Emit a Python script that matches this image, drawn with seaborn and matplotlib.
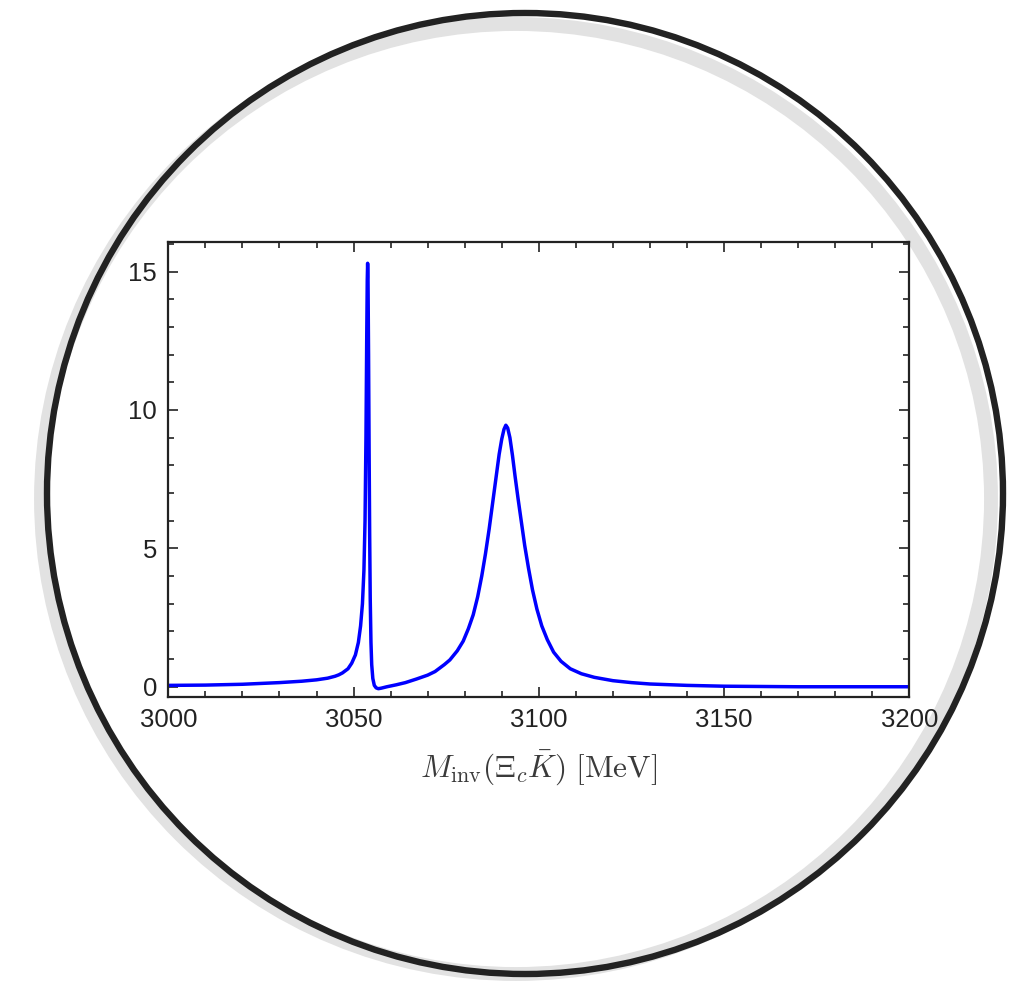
import matplotlib
matplotlib.use("Agg")
import matplotlib.pyplot as plt
from matplotlib.patches import Ellipse
from matplotlib.ticker import MultipleLocator
import seaborn as sns
import pandas as pd

# Invariant-mass spectrum of Xi_c Kbar (MeV, arbitrary units)
mass = [
    3000, 3010, 3020, 3030, 3036, 3040, 3043, 3045, 3046, 3047,
    3048.5, 3049.5, 3050.5, 3051.3, 3051.9, 3052.4, 3052.8, 3053.1, 3053.35, 3053.55,
    3053.7, 3053.8, 3053.9, 3054.05, 3054.2, 3054.35, 3054.5, 3054.7, 3054.9, 3055.2,
    3055.6, 3056.1, 3056.7, 3057.5, 3059, 3061.5, 3064, 3067, 3070, 3072,
    3073.3, 3074.5, 3076, 3078, 3079.6, 3081, 3082.3, 3083.5, 3084.6, 3085.6,
    3086.6, 3087.6, 3088.5, 3089.3, 3090, 3090.6, 3091.1, 3091.6, 3092.2, 3092.9,
    3093.6, 3094.4, 3095.3, 3096.2, 3097.2, 3098.3, 3099.5, 3100.8, 3102.3, 3104,
    3106, 3108.5, 3111.5, 3115, 3120, 3125, 3130, 3140, 3150, 3170,
    3200,
]
intensity = [
    0.05, 0.06, 0.09, 0.15, 0.20, 0.25, 0.31, 0.38, 0.43, 0.50,
    0.65, 0.85, 1.15, 1.60, 2.20, 3.00, 4.20, 6.00, 9.00, 12.5,
    14.7, 15.3, 14.8, 12.0, 8.50, 5.50, 3.20, 1.60, 0.80, 0.30,
    0.05, -0.04, -0.07, -0.05, 0.00, 0.07, 0.15, 0.28, 0.42, 0.55,
    0.68, 0.80, 0.97, 1.30, 1.65, 2.10, 2.60, 3.25, 4.00, 4.80,
    5.70, 6.70, 7.60, 8.40, 8.95, 9.30, 9.45, 9.35, 9.00, 8.35,
    7.60, 6.80, 5.95, 5.10, 4.30, 3.50, 2.80, 2.20, 1.70, 1.25,
    0.92, 0.65, 0.47, 0.34, 0.22, 0.15, 0.10, 0.05, 0.02, 0.00,
    0.00,
]
x_ticks = [3000, 3050, 3100, 3150, 3200]
y_ticks = [0, 5, 10, 15]

df = pd.DataFrame({"mass": mass, "intensity": intensity})

sns.set_theme(style="ticks")
plt.rcParams["font.family"] = ["Liberation Sans", "DejaVu Sans"]
plt.rcParams["mathtext.fontset"] = "cm"

W, H = 1036, 985
fig = plt.figure(figsize=(W / 100, H / 100), dpi=100)
fig.patch.set_facecolor("white")

# circular frame behind the plot
bg = fig.add_axes([0, 0, 1, 1], zorder=0)
bg.set_xlim(0, W)
bg.set_ylim(H, 0)
bg.axis("off")
bg.add_patch(Ellipse((516, 499), 2 * 475, 2 * 475, fill=False,
                     edgecolor="#e2e2e2", linewidth=10))
bg.add_patch(Ellipse((525, 493.5), 2 * 478, 2 * 480.5, fill=False,
                     edgecolor="#222222", linewidth=4.6))

ax = fig.add_axes([168.3 / W, 1 - 697 / H, (909.3 - 168.3) / W, (697 - 241.7) / H],
                  zorder=1)
ax.set_facecolor("white")
sns.lineplot(data=df, x="mass", y="intensity", ax=ax, color="#0000ff",
             linewidth=2.5, sort=False, estimator=None)

ax.set_xlim(3000, 3200)
ax.set_ylim(-0.37, 16.08)
ax.set_xticks(x_ticks)
ax.set_yticks(y_ticks)
ax.xaxis.set_minor_locator(MultipleLocator(10))
ax.yaxis.set_minor_locator(MultipleLocator(1))
ax.tick_params(which="both", direction="in", top=True, right=True,
               color="#222222", width=1.2)
ax.tick_params(which="major", length=7, labelsize=18.5, labelcolor="#222222", pad=8)
ax.tick_params(which="minor", length=4)
for s in ax.spines.values():
    s.set_linewidth(1.6)
    s.set_color("#222222")

ax.set_ylabel("")
ax.set_xlabel(r"$M_{\rm inv}(\Xi_c\bar{K})\ [{\rm MeV}]$", fontsize=22.5,
              color="#3a3a3a", labelpad=12)

fig.savefig("out.png", dpi=100, facecolor="white")
